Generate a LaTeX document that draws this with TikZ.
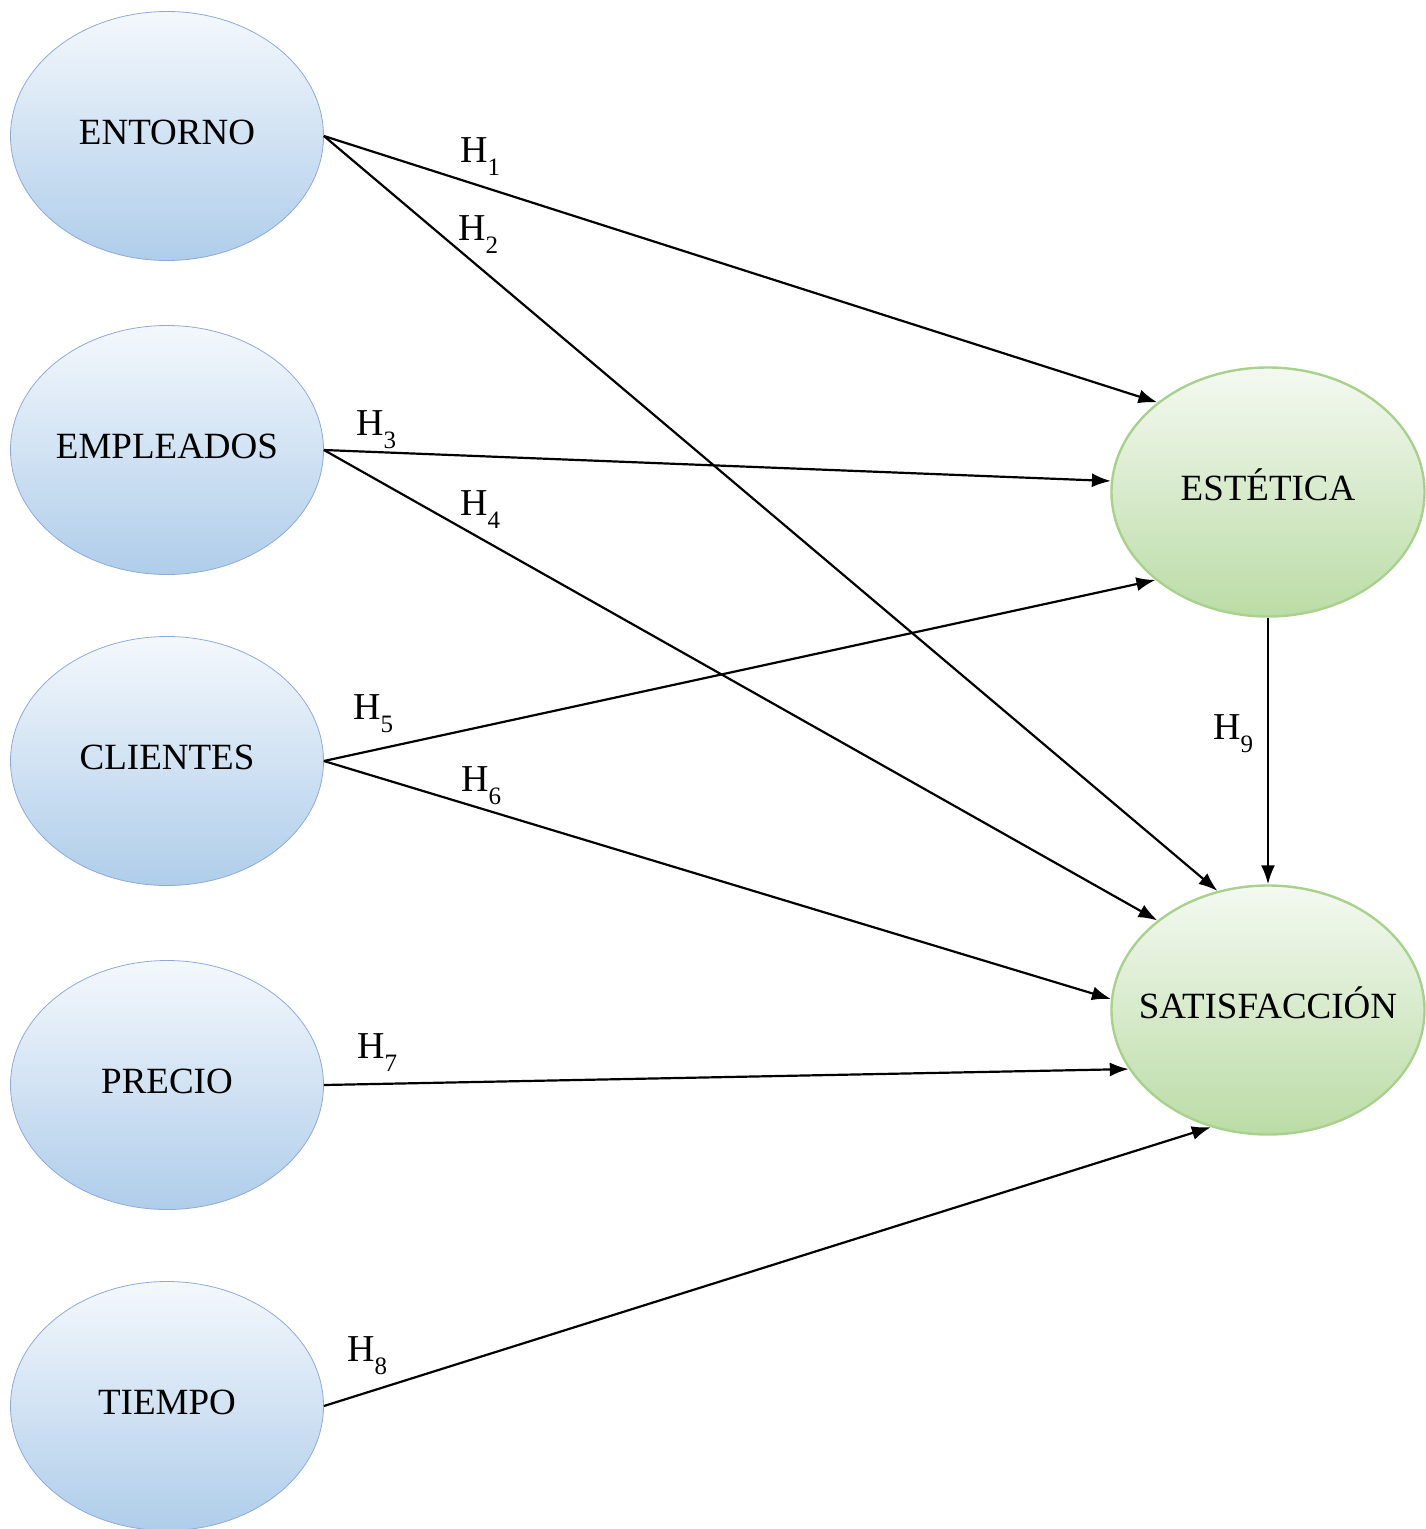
\documentclass[tikz,border=0pt]{standalone}
\usepackage{fontspec}
\setmainfont{Liberation Serif}
\usetikzlibrary{arrows.meta,shapes.geometric}
\tikzset{>={Latex[width=14pt,length=19pt]}}
\definecolor{bluetop}{RGB}{244,248,252}
\definecolor{bluebot}{RGB}{175,205,234}
\definecolor{blueline}{RGB}{142,170,219}
\definecolor{greentop}{RGB}{244,249,241}
\definecolor{greenbot}{RGB}{187,220,166}
\definecolor{greenline}{RGB}{169,209,142}
\newcommand{\hyplabel}[1]{H\raisebox{-13pt}{\fontsize{25}{30}\selectfont #1}}

\begin{document}
\begin{tikzpicture}[x=1pt,y=-1pt,
		construct/.style={ellipse,minimum width=313pt,minimum height=249pt,
			inner xsep=-50pt,inner ysep=0pt,text height=24.5pt,text depth=8pt,
			font=\fontsize{37}{44}\selectfont},
		factor/.style={construct,draw=blueline,line width=0.8pt,top color=bluetop,bottom color=bluebot},
		outcome/.style={construct,draw=greenline,line width=2.4pt,top color=greentop,bottom color=greenbot},
		hyp/.style={anchor=base west,inner sep=0pt,font=\fontsize{38}{44}\selectfont},
		path/.style={->,line width=2.2pt}]
		% border
		\useasboundingbox (0,0) rectangle (1426,1529);
		% antecedents
		\node[factor] (ent) at (167,136)  {ENTORNO};
		\node[factor] (emp) at (167,450)  {EMPLEADOS};
		\node[factor] (cli) at (167,761)  {CLIENTES};
		\node[factor] (pre) at (167,1085) {PRECIO};
		\node[factor] (tie) at (167,1406) {TIEMPO};
		% consequents
		\node[outcome] (est) at (1268,492)  {ESTÉTICA};
		\node[outcome] (sat) at (1268,1010) {SATISFACCIÓN};
		% hypotheses paths
		\draw[path] (ent.east) -- (est.141);
		\draw[path] (ent.east) -- (sat.113);
		\draw[path] (emp.east) -- (est.176);
		\draw[path] (emp.east) -- (sat.141);
		\draw[path] (cli.east) -- (est.218);
		\draw[path] (cli.east) -- (sat.176);
		\draw[path] (pre.east) -- (sat.203);
		\draw[path] (tie.east) -- (sat.244);
		\draw[path] (est.south) -- (sat.north);
		% labels
		\node[hyp] (h1) at (460,162)  {\hyplabel{1}};
		\node[hyp] (h2) at (458,240)  {\hyplabel{2}};
		\node[hyp] (h3) at (356,435)  {\hyplabel{3}};
		\node[hyp] (h4) at (460,515)  {\hyplabel{4}};
		\node[hyp] (h5) at (353,719)  {\hyplabel{5}};
		\node[hyp] (h6) at (461,791)  {\hyplabel{6}};
		\node[hyp] (h7) at (357,1058) {\hyplabel{7}};
		\node[hyp] (h8) at (347,1361) {\hyplabel{8}};
		\node[hyp] (h9) at (1213,739) {\hyplabel{9}};
	\end{tikzpicture}
\end{document}
